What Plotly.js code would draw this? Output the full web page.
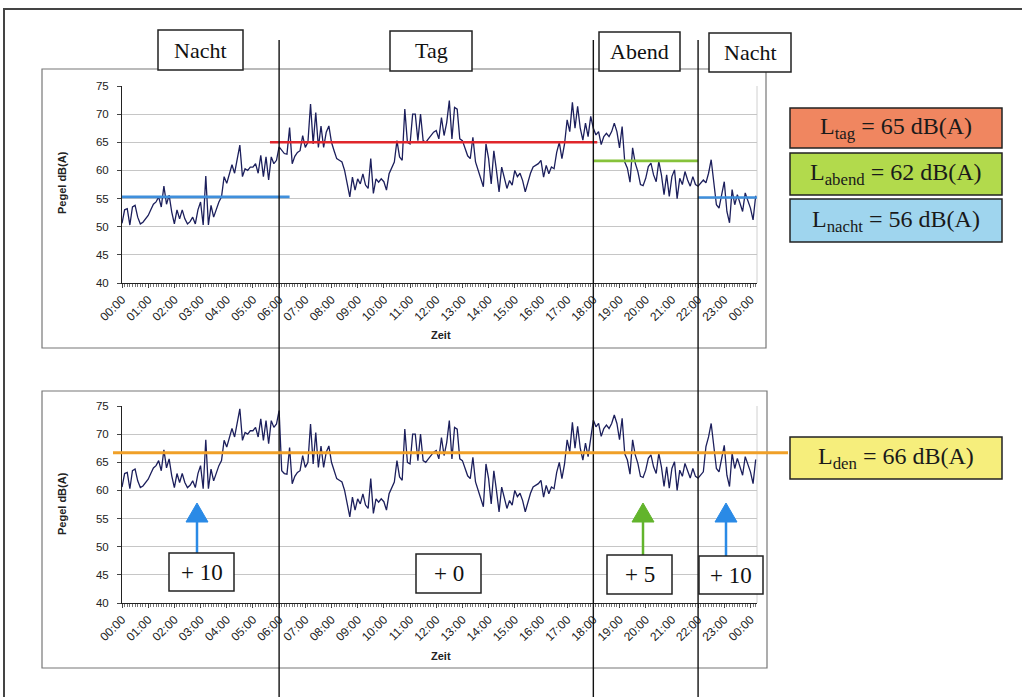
<!DOCTYPE html>
<html>
<head>
<meta charset="utf-8">
<script src="https://cdn.plot.ly/plotly-3.0.1.min.js"></script>
<style>
  html, body { margin: 0; padding: 0; background: #ffffff; }
  #chart { width: 1022px; height: 697px; }
</style>
</head>
<body>
<div id="chart"></div>
<script>
// ---------------- DATA ----------------
// Sampling step of the measured series (hours)
const STEP_H = 0.1;

// Measured level (top chart), dB(A), one value every 6 minutes starting 00:00
const pegel = [
  50.6, 53.0, 53.2, 50.3, 53.5, 53.8, 51.7, 50.5, 50.8, 51.5,
  52.0, 53.0, 54.0, 54.4, 55.3, 53.5, 57.2, 54.0, 55.6, 52.6,
  50.5, 53.0, 51.4, 53.0, 51.4, 50.5, 50.9, 51.7, 50.5, 53.0,
  54.4, 50.3, 59.0, 50.3, 53.8, 51.7, 53.0, 54.4, 55.3, 58.9,
  57.7, 59.5, 61.0, 59.5, 61.8, 64.5, 58.9, 60.3, 60.0, 60.6,
  60.6, 61.2, 59.5, 62.7, 58.9, 62.4, 58.3, 62.4, 61.2, 61.8,
  64.2, 63.5, 63.0, 62.9, 67.6, 61.2, 62.5, 63.2, 63.5, 66.2,
  64.1, 65.0, 71.8, 64.7, 70.3, 64.1, 67.9, 64.1, 66.8, 67.9,
  65.0, 63.5, 62.1, 61.8, 61.5, 60.0, 57.6, 55.3, 58.8, 56.5,
  58.5, 57.6, 59.4, 57.4, 56.8, 62.1, 55.9, 58.5, 57.9, 58.5,
  58.0, 56.5, 59.4, 60.5, 61.5, 65.3, 62.4, 61.8, 70.9, 65.0,
  64.7, 70.0, 70.0, 65.3, 70.0, 65.3, 65.0, 65.6, 66.2, 66.8,
  67.1, 65.6, 69.4, 66.2, 68.5, 72.4, 65.6, 71.2, 70.9, 65.6,
  65.3, 64.1, 62.6, 62.1, 65.9, 61.5, 60.0, 58.2, 57.1, 64.7,
  62.1, 57.6, 63.5, 60.0, 56.2, 60.6, 58.8, 56.8, 58.2, 57.4,
  60.0, 58.9, 59.5, 58.2, 56.2, 58.0, 59.5, 60.6, 60.9, 61.2,
  61.8, 58.8, 60.9, 59.4, 60.6, 60.3, 63.2, 65.0, 62.1, 64.7,
  69.0, 66.9, 72.1, 67.5, 71.4, 67.5, 65.4, 68.4, 66.0, 69.6,
  67.5, 66.3, 66.9, 64.6, 66.0, 66.6, 66.0, 66.9, 68.4, 66.9,
  64.0, 67.8, 61.5, 60.4, 57.9, 64.0, 61.3, 59.8, 57.5, 57.3,
  58.6, 60.7, 61.3, 59.2, 58.0, 61.6, 59.2, 55.7, 59.2, 55.4,
  58.9, 60.1, 55.0, 58.6, 57.5, 59.8, 58.3, 57.2, 58.9, 57.5,
  57.2, 57.8, 58.3, 57.8, 59.5, 61.9, 57.5, 53.9, 53.3, 55.7,
  58.0, 52.7, 50.7, 56.6, 53.9, 55.7, 54.0, 52.7, 56.0, 54.5,
  53.3, 51.2, 55.5
];

// Weighted level (bottom chart, with evening/night penalties), dB(A)
const pegelGewichtet = [
  60.6, 63.0, 63.2, 60.3, 63.5, 63.8, 61.7, 60.5, 60.8, 61.5,
  62.0, 63.0, 64.0, 64.4, 65.3, 63.5, 67.2, 64.0, 65.6, 62.6,
  60.5, 63.0, 61.4, 63.0, 61.4, 60.5, 60.9, 61.7, 60.5, 63.0,
  64.4, 60.3, 69.0, 60.3, 63.8, 61.7, 63.0, 64.4, 65.3, 68.9,
  67.7, 69.5, 71.0, 69.5, 71.8, 74.5, 68.9, 70.3, 70.0, 70.6,
  70.6, 71.2, 69.5, 72.7, 68.9, 72.4, 68.3, 72.4, 71.2, 71.8,
  74.2, 63.5, 63.0, 62.9, 67.6, 61.2, 62.5, 63.2, 63.5, 66.2,
  64.1, 65.0, 71.8, 64.7, 70.3, 64.1, 67.9, 64.1, 66.8, 67.9,
  65.0, 63.5, 62.1, 61.8, 61.5, 60.0, 57.6, 55.3, 58.8, 56.5,
  58.5, 57.6, 59.4, 57.4, 56.8, 62.1, 55.9, 58.5, 57.9, 58.5,
  58.0, 56.5, 59.4, 60.5, 61.5, 65.3, 62.4, 61.8, 70.9, 65.0,
  64.7, 70.0, 70.0, 65.3, 70.0, 65.3, 65.0, 65.6, 66.2, 66.8,
  67.1, 65.6, 69.4, 66.2, 68.5, 72.4, 65.6, 71.2, 70.9, 65.6,
  65.3, 64.1, 62.6, 62.1, 65.9, 61.5, 60.0, 58.2, 57.1, 64.7,
  62.1, 57.6, 63.5, 60.0, 56.2, 60.6, 58.8, 56.8, 58.2, 57.4,
  60.0, 58.9, 59.5, 58.2, 56.2, 58.0, 59.5, 60.6, 60.9, 61.2,
  61.8, 58.8, 60.9, 59.4, 60.6, 60.3, 63.2, 65.0, 62.1, 64.7,
  69.0, 66.9, 72.1, 67.5, 71.4, 67.5, 65.4, 68.4, 66.0, 69.6,
  72.5, 71.3, 71.9, 69.6, 71.0, 71.6, 71.0, 71.9, 73.4, 71.9,
  69.0, 72.8, 66.5, 65.4, 62.9, 69.0, 66.3, 64.8, 62.5, 62.3,
  63.6, 65.7, 66.3, 64.2, 63.0, 66.6, 64.2, 60.7, 64.2, 60.4,
  63.9, 65.1, 60.0, 63.6, 62.5, 64.8, 63.3, 62.2, 63.9, 62.5,
  62.2, 62.8, 63.3, 67.8, 69.5, 71.9, 67.5, 63.9, 63.3, 65.7,
  68.0, 62.7, 60.7, 66.6, 63.9, 65.7, 64.0, 62.7, 66.0, 64.5,
  63.3, 61.2, 65.5
];

// Tick labels (hours)
const tickHours = [0,1,2,3,4,5,6,7,8,9,10,11,12,13,14,15,16,17,18,19,20,21,22,23,24];
const tickLabels = ["00:00","01:00","02:00","03:00","04:00","05:00","06:00","07:00","08:00",
  "09:00","10:00","11:00","12:00","13:00","14:00","15:00","16:00","17:00","18:00","19:00",
  "20:00","21:00","22:00","23:00","00:00"];

// Period boundaries (hours) and period names
const periodBounds = [6, 18, 22];
const periodNames = ["Nacht", "Tag", "Abend", "Nacht"];

// Mean levels drawn as horizontal bars [value, start hour, end hour]
const levelTag   = [65.0, 5.65, 18.15];
const levelAbend = [61.7, 18.0, 22.0];
const levelNacht1 = [55.3, 0.0, 6.4];
const levelNacht2 = [55.2, 22.0, 24.25];
const levelDen = 66.7;

// Legend values
const legendTexts = ["L<sub>tag</sub> = 65 dB(A)", "L<sub>abend</sub> = 62 dB(A)",
  "L<sub>nacht</sub> = 56 dB(A)", "L<sub>den</sub> = 66 dB(A)"];
const penaltyTexts = ["+ 10", "+ 0", "+ 5", "+ 10"];

// ---------------- BUILD ----------------
const W = 1022, H = 697;
const px = x => x / W;
const py = y => 1 - y / H;

const hours = pegel.map((_, i) => +(i * STEP_H).toFixed(2));

const navy = '#1c1f5c';
const serif = 'Liberation Serif, Times New Roman, serif';
const sans = 'Liberation Sans, Arial, sans-serif';

const traces = [
  { x: hours, y: pegel, xaxis: 'x', yaxis: 'y', type: 'scatter', mode: 'lines',
    line: { color: navy, width: 1.3 }, hoverinfo: 'skip' },
  { x: hours, y: pegelGewichtet, xaxis: 'x2', yaxis: 'y2', type: 'scatter', mode: 'lines',
    line: { color: navy, width: 1.3 }, hoverinfo: 'skip' },
  // level bars
  { x: [levelNacht1[1], levelNacht1[2]], y: [levelNacht1[0], levelNacht1[0]], xaxis: 'x', yaxis: 'y',
    mode: 'lines', line: { color: '#3f8fdc', width: 2.6 }, hoverinfo: 'skip' },
  { x: [levelTag[1], levelTag[2]], y: [levelTag[0], levelTag[0]], xaxis: 'x', yaxis: 'y',
    mode: 'lines', line: { color: '#e0262b', width: 2.6 }, hoverinfo: 'skip' },
  { x: [levelAbend[1], levelAbend[2]], y: [levelAbend[0], levelAbend[0]], xaxis: 'x', yaxis: 'y',
    mode: 'lines', line: { color: '#86c23a', width: 2.6 }, hoverinfo: 'skip' },
  { x: [levelNacht2[1], levelNacht2[2]], y: [levelNacht2[0], levelNacht2[0]], xaxis: 'x', yaxis: 'y',
    mode: 'lines', line: { color: '#3f8fdc', width: 2.6 }, hoverinfo: 'skip' }
];

const xRange = [0, 24.25];
function xAxis(anchor) {
  return {
    domain: [px(122), px(757)], range: xRange, anchor: anchor,
    tickmode: 'array', tickvals: tickHours, ticktext: tickLabels, tickangle: -45,
    tickfont: { family: sans, size: 12, color: '#222' },
    showline: true, linecolor: '#222', linewidth: 1,
    ticks: 'outside', ticklen: 4, tickcolor: '#444',
    minor: { ticks: 'outside', dtick: STEP_H, ticklen: 3, tickcolor: '#777', tickwidth: 1, showgrid: false },
    showgrid: false, zeroline: false, fixedrange: true
  };
}
function yAxis(domain, anchor) {
  return {
    domain: domain, range: [40, 75], anchor: anchor, dtick: 5,
    tickfont: { family: sans, size: 11.5, color: '#222' },
    showline: true, linecolor: '#222', linewidth: 1,
    ticks: 'outside', ticklen: 4, tickcolor: '#444', ticklabelstandoff: 6,
    showgrid: true, gridcolor: '#c6c6c6', gridwidth: 1, zeroline: false, fixedrange: true
  };
}

const shapes = [];
// outer frame
shapes.push({ type: 'rect', xref: 'paper', yref: 'paper', x0: px(4), x1: px(1040), y0: py(9), y1: py(720),
  line: { color: '#444', width: 2 }, layer: 'below' });
// chart panels
shapes.push({ type: 'rect', xref: 'paper', yref: 'paper', x0: px(42), x1: px(766), y0: py(69), y1: py(348),
  line: { color: '#777', width: 1.2 }, layer: 'below' });
shapes.push({ type: 'rect', xref: 'paper', yref: 'paper', x0: px(42), x1: px(767), y0: py(391), y1: py(668),
  line: { color: '#777', width: 1.2 }, layer: 'below' });
// plot area right edge (light)
[[86, 283], [406, 603]].forEach(([t, b]) => {
  shapes.push({ type: 'line', xref: 'paper', yref: 'paper', x0: px(757), x1: px(757), y0: py(t), y1: py(b),
    line: { color: '#d0d0d0', width: 1 }, layer: 'below' });
});
// period boundary lines
periodBounds.forEach(h => {
  shapes.push({ type: 'line', xref: 'x', yref: 'paper', x0: h, x1: h, y0: py(40), y1: 0,
    line: { color: '#111', width: 1.4 }, layer: 'above' });
});
// Lden line (extends to its legend box)
shapes.push({ type: 'line', xref: 'paper', yref: 'y2', x0: px(113), x1: px(788), y0: levelDen, y1: levelDen,
  line: { color: '#f0a028', width: 3 }, layer: 'above' });

// Period label boxes (top)
const periodBoxes = [[158, 30, 243, 70], [390, 31, 472, 71], [599, 32, 680, 71], [709, 33, 791, 72]];
// penalty boxes (bottom)
const penaltyBoxes = [[169, 553, 234, 591], [416, 554, 481, 593], [607, 555, 672, 594], [699, 556, 763, 594]];
// legend boxes (right)
const legendBoxes = [[790, 108, 1002, 148], [790, 153, 1002, 195], [790, 199, 1002, 242], [790, 437, 1002, 479]];
const legendFills = ['#f08660', '#b2da4c', '#9fd5ee', '#f6ee7c'];

const annotations = [];
function boxWithText(b, text, fill, font) {
  shapes.push({ type: 'rect', xref: 'paper', yref: 'paper', x0: px(b[0]), x1: px(b[2]), y0: py(b[1]), y1: py(b[3]),
    fillcolor: fill, line: { color: '#222', width: 1.5 }, layer: 'above' });
  annotations.push({ xref: 'paper', yref: 'paper', x: px((b[0] + b[2]) / 2), y: py((b[1] + b[3]) / 2),
    xanchor: 'center', yanchor: 'middle', showarrow: false, text: text, font: font });
}
periodBoxes.forEach((b, i) => boxWithText(b, periodNames[i], '#ffffff', { family: serif, size: 22, color: '#111' }));
legendBoxes.forEach((b, i) => boxWithText(b, legendTexts[i], legendFills[i], { family: serif, size: 24, color: '#1a1a1a' }));

// arrows (bottom chart): [x, tip y, tail y, colour] drawn as shaft + triangular head
const arrows = [[197, 503, 553, '#2a8ae6'], [643, 503, 555, '#62b42c'], [726, 503, 556, '#2a8ae6']];
arrows.forEach(a => {
  const headH = 19, headW = 11;
  shapes.push({ type: 'line', xref: 'paper', yref: 'paper', x0: px(a[0]), x1: px(a[0]),
    y0: py(a[1] + headH - 1), y1: py(a[2]), line: { color: a[3], width: 2.5 }, layer: 'above' });
  shapes.push({ type: 'path', xref: 'paper', yref: 'paper',
    path: `M ${px(a[0])} ${py(a[1])} L ${px(a[0] + headW)} ${py(a[1] + headH)} L ${px(a[0] - headW)} ${py(a[1] + headH)} Z`,
    fillcolor: a[3], line: { color: a[3], width: 1 }, layer: 'above' });
});
penaltyBoxes.forEach((b, i) => boxWithText(b, penaltyTexts[i], '#ffffff', { family: serif, size: 23, color: '#111' }));

// axis titles
[[183, 335], [504, 656]].forEach(([yc, yz]) => {
  annotations.push({ xref: 'paper', yref: 'paper', x: px(62), y: py(yc), textangle: -90, showarrow: false,
    xanchor: 'center', yanchor: 'middle', text: '<b>Pegel dB(A)</b>', font: { family: sans, size: 11, color: '#222' } });
  annotations.push({ xref: 'paper', yref: 'paper', x: px(441), y: py(yz), showarrow: false,
    xanchor: 'center', yanchor: 'middle', text: '<b>Zeit</b>', font: { family: sans, size: 11, color: '#222' } });
});

const layout = {
  width: W, height: H,
  margin: { l: 0, r: 0, t: 0, b: 0 },
  paper_bgcolor: '#ffffff', plot_bgcolor: 'rgba(0,0,0,0)',
  showlegend: false,
  xaxis: xAxis('y'),
  yaxis: yAxis([py(283), py(86)], 'x'),
  xaxis2: xAxis('y2'),
  yaxis2: yAxis([py(603), py(406)], 'x2'),
  shapes: shapes,
  annotations: annotations
};

Plotly.newPlot('chart', traces, layout, { staticPlot: true, displayModeBar: false });
</script>
</body>
</html>
